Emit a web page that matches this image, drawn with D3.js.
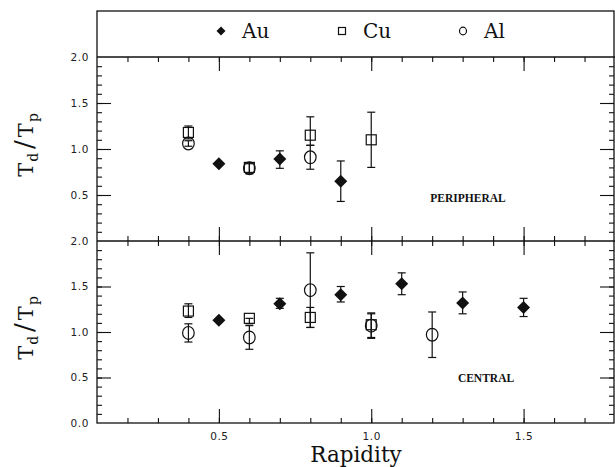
<!DOCTYPE html>
<html lang="en">
<head>
<meta charset="UTF-8">
<title>Td/Tp vs Rapidity</title>
<script src="https://d3js.org/d3.v7.min.js"></script>
<style>
    body { margin: 0; background: #fff; }
    svg { display: block; }
    .frame { fill: none; stroke: #111; stroke-width: 1.3px; }
    .ticks path { display: none; }
    .ticks line { stroke: #111; stroke-width: 1.1px; }
    .tick-label text { font-family: "DejaVu Sans", sans-serif; font-size: 10.5px; fill: #222; letter-spacing: 0.6px; }
    .tick-label line, .tick-label path { display: none; }
    .serif { font-family: "DejaVu Serif", "Liberation Serif", serif; fill: #111; }
    .panel-name { font-family: "Liberation Serif", serif; font-weight: bold; font-size: 11.5px; fill: #111; }
    .err { stroke: #111; stroke-width: 1.2px; fill: none; }
</style>
</head>
<body>
<div id="chart"></div>
<script>
    // --- Data ---
    // each point: rapidity, Td/Tp, error low, error high
    const periAu = [
        {x: 0.5, y: 0.84, lo: 0.84, hi: 0.84},
        {x: 0.7, y: 0.89, lo: 0.79, hi: 0.98},
        {x: 0.9, y: 0.65, lo: 0.43, hi: 0.87}
    ];
    const periCu = [
        {x: 0.4, y: 1.18, lo: 1.11, hi: 1.25},
        {x: 0.6, y: 0.80, lo: 0.74, hi: 0.85},
        {x: 0.8, y: 1.15, lo: 1.04, hi: 1.35},
        {x: 1.0, y: 1.10, lo: 0.80, hi: 1.40}
    ];
    const periAl = [
        {x: 0.4, y: 1.06, lo: 1.03, hi: 1.09},
        {x: 0.6, y: 0.79, lo: 0.73, hi: 0.84},
        {x: 0.8, y: 0.91, lo: 0.78, hi: 1.04}
    ];
    const centAu = [
        {x: 0.5, y: 1.13, lo: 1.13, hi: 1.13},
        {x: 0.7, y: 1.31, lo: 1.26, hi: 1.37},
        {x: 0.9, y: 1.41, lo: 1.33, hi: 1.50},
        {x: 1.1, y: 1.53, lo: 1.41, hi: 1.65},
        {x: 1.3, y: 1.32, lo: 1.20, hi: 1.44},
        {x: 1.5, y: 1.27, lo: 1.17, hi: 1.37}
    ];
    const centCu = [
        {x: 0.4, y: 1.23, lo: 1.16, hi: 1.31},
        {x: 0.6, y: 1.15, lo: 1.09, hi: 1.15},
        {x: 0.8, y: 1.16, lo: 1.05, hi: 1.27},
        {x: 1.0, y: 1.08, lo: 0.94, hi: 1.21}
    ];
    const centAl = [
        {x: 0.4, y: 0.99, lo: 0.89, hi: 1.09},
        {x: 0.6, y: 0.94, lo: 0.81, hi: 1.07},
        {x: 0.8, y: 1.46, lo: 1.05, hi: 1.87},
        {x: 1.0, y: 1.07, lo: 0.93, hi: 1.20},
        {x: 1.2, y: 0.97, lo: 0.72, hi: 1.22}
    ];
    const seriesNames = ["Au", "Cu", "Al"];
    const panelNames = ["PERIPHERAL", "CENTRAL"];
    const xTickLabels = [0.5, 1.0, 1.5];

    // --- Layout ---
    const W = 615, H = 467;
    const padL = 97, padR = 615, padT = 11, legendBottom = 57, divider = 241, plotBottom = 423;

    const svg = d3.select("#chart").append("svg").attr("width", W).attr("height", H);

    const x = d3.scaleLinear().domain([0.1, 1.8]).range([padL, padR]);
    const yTop = d3.scaleLinear().domain([0, 2]).range([divider, legendBottom]);
    const yBot = d3.scaleLinear().domain([0, 2]).range([plotBottom, divider]);

    const minorX = d3.range(2, 18).map(d => d / 10);
    const majorX = [0.5, 1.0, 1.5];
    const minorY = d3.range(1, 20).map(d => d / 10);
    const majorY = [0.5, 1.0, 1.5];

    // frame lines
    svg.append("rect").attr("class", "frame")
        .attr("x", padL).attr("y", padT).attr("width", padR - padL - 1).attr("height", plotBottom - padT);
    [legendBottom, divider].forEach(yy => {
        svg.append("line").attr("class", "frame").attr("x1", padL).attr("x2", padR).attr("y1", yy).attr("y2", yy);
    });

    // x ticks (inward on each horizontal line; both ways on the divider)
    function xTicks(axisFn, yPos, vals, size) {
        svg.append("g").attr("class", "ticks").attr("transform", `translate(0,${yPos})`)
            .call(axisFn(x).tickValues(vals).tickSize(size).tickFormat(""));
    }
    xTicks(d3.axisBottom, legendBottom, minorX, 5);
    xTicks(d3.axisBottom, legendBottom, majorX, 14);
    xTicks(d3.axisBottom, divider, minorX, 5);
    xTicks(d3.axisBottom, divider, majorX, 14);
    xTicks(d3.axisTop, divider, minorX, 5);
    xTicks(d3.axisTop, divider, majorX, 14);
    xTicks(d3.axisTop, plotBottom, minorX, 5);
    xTicks(d3.axisTop, plotBottom, majorX, 14);

    svg.append("g").attr("class", "tick-label").attr("transform", `translate(0,${plotBottom})`)
        .call(d3.axisBottom(x).tickValues(xTickLabels).tickSize(0).tickPadding(10).tickFormat(d3.format(".1f")));

    // y ticks for both panels, left and right
    [[yTop, [0.5, 1.0, 1.5, 2.0]], [yBot, [0.0, 0.5, 1.0, 1.5, 2.0]]].forEach(([ys, labels]) => {
        svg.append("g").attr("class", "ticks").attr("transform", `translate(${padL},0)`)
            .call(d3.axisRight(ys).tickValues(minorY).tickSize(5).tickFormat(""));
        svg.append("g").attr("class", "ticks").attr("transform", `translate(${padL},0)`)
            .call(d3.axisRight(ys).tickValues(majorY).tickSize(14).tickFormat(""));
        svg.append("g").attr("class", "ticks").attr("transform", `translate(${padR - 1},0)`)
            .call(d3.axisLeft(ys).tickValues(minorY).tickSize(5).tickFormat(""));
        svg.append("g").attr("class", "ticks").attr("transform", `translate(${padR - 1},0)`)
            .call(d3.axisLeft(ys).tickValues(majorY).tickSize(14).tickFormat(""));
        svg.append("g").attr("class", "tick-label").attr("transform", `translate(${padL},0)`)
            .call(d3.axisLeft(ys).tickValues(labels).tickSize(0).tickPadding(8).tickFormat(d3.format(".1f")));
    });

    // --- markers ---
    const diamond = s => `M0,${-s}L${s},0L0,${s}L${-s},0Z`;
    function marker(g, name, cx, cy, big) {
        if (name === "Au") {
            g.append("path").attr("d", diamond(big ? 6.5 : 4.5))
                .attr("transform", `translate(${cx},${cy})`).attr("fill", "#111");
        } else if (name === "Cu") {
            const s = big ? 10 : 7;
            g.append("rect").attr("x", cx - s / 2).attr("y", cy - s / 2).attr("width", s).attr("height", s)
                .attr("fill", "none").attr("stroke", "#111").attr("stroke-width", 1.2);
        } else {
            g.append("ellipse").attr("cx", cx).attr("cy", cy)
                .attr("rx", big ? 5.8 : 3.5).attr("ry", big ? 6.4 : 3.8)
                .attr("fill", "none").attr("stroke", "#111").attr("stroke-width", 1.2);
        }
    }

    function drawSeries(data, name, ys) {
        const g = svg.append("g");
        data.forEach(d => {
            const cx = x(d.x);
            if (d.hi > d.lo) {
                g.append("line").attr("class", "err").attr("x1", cx).attr("x2", cx).attr("y1", ys(d.lo)).attr("y2", ys(d.hi));
                [d.lo, d.hi].forEach(v => {
                    g.append("line").attr("class", "err").attr("x1", cx - 4).attr("x2", cx + 4).attr("y1", ys(v)).attr("y2", ys(v));
                });
            }
            marker(g, name, cx, ys(d.y), true);
        });
    }
    drawSeries(periCu, "Cu", yTop);
    drawSeries(periAl, "Al", yTop);
    drawSeries(periAu, "Au", yTop);
    drawSeries(centCu, "Cu", yBot);
    drawSeries(centAl, "Al", yBot);
    drawSeries(centAu, "Au", yBot);

    // --- legend ---
    const legendX = [221, 342, 463];
    const lg = svg.append("g");
    seriesNames.forEach((n, i) => {
        marker(lg, n, legendX[i], 31, false);
        lg.append("text").attr("class", "serif").attr("x", legendX[i] + 21).attr("y", 38)
            .attr("font-size", 20).text(n);
    });

    // --- panel labels ---
    svg.append("text").attr("class", "panel-name").attr("x", 468).attr("y", 202)
        .attr("text-anchor", "middle").text(panelNames[0]);
    svg.append("text").attr("class", "panel-name").attr("x", 486).attr("y", 382)
        .attr("text-anchor", "middle").text(panelNames[1]);

    // --- axis titles (rotated) ---
    [yTop, yBot].forEach(ys => {
        const cy = (ys.range()[0] + ys.range()[1]) / 2 - 4;
        const g = svg.append("g").attr("transform", `translate(33,${cy}) rotate(-90)`);
        const t = g.append("text").attr("class", "serif").attr("font-size", 21)
            .attr("x", 0).attr("y", 0).attr("text-anchor", "middle");
        t.append("tspan").text("T");
        t.append("tspan").attr("font-size", 14).attr("dy", 5).attr("dx", 1).text("d");
        t.append("tspan").attr("font-size", 26).attr("dy", -5).attr("dx", 4).text("/");
        t.append("tspan").attr("dx", 3).text("T");
        t.append("tspan").attr("font-size", 14).attr("dy", 5).attr("dx", 1).text("p");
    });

    svg.append("text").attr("class", "serif").attr("font-size", 21.5)
        .attr("x", (padL + padR) / 2).attr("y", 462).attr("text-anchor", "middle").text("Rapidity");
</script>
</body>
</html>
